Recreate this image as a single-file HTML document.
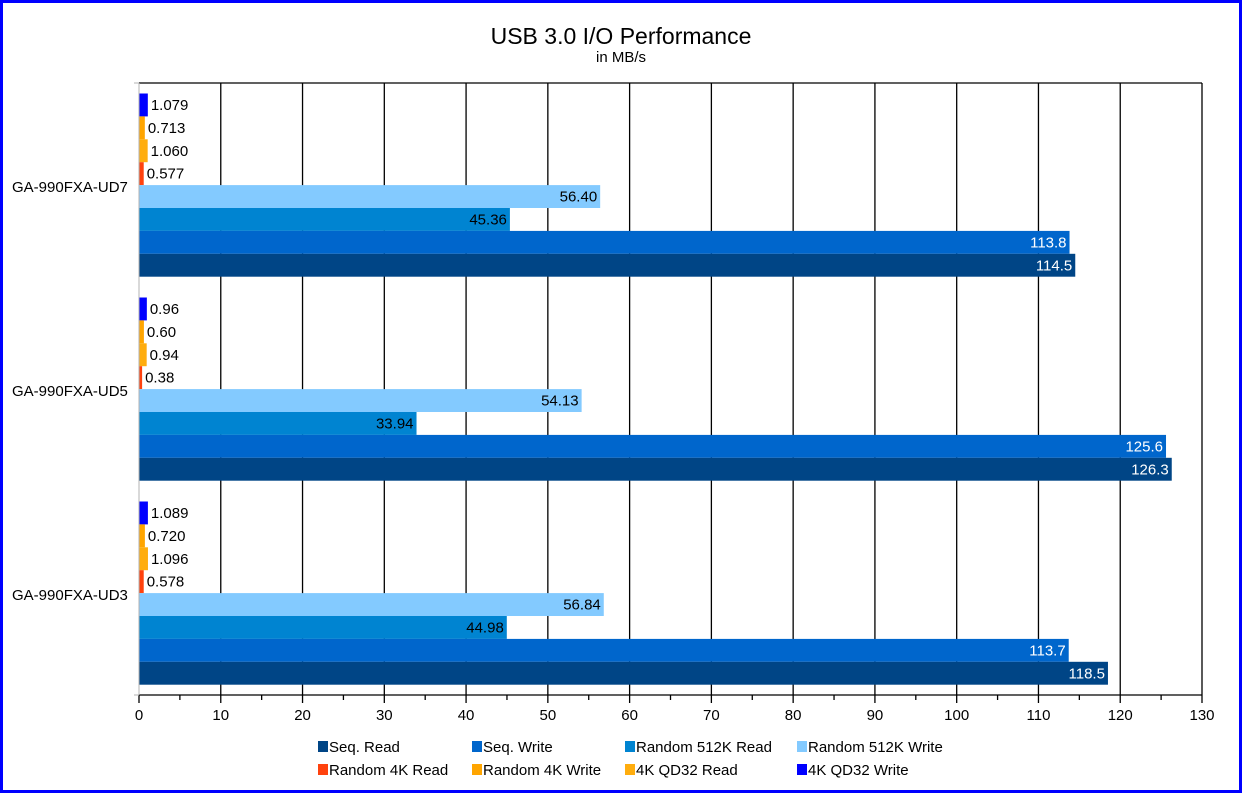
<!DOCTYPE html>
<html><head><meta charset="utf-8"><style>
html,body{margin:0;padding:0;background:#fff;}
svg{display:block;font-family:"Liberation Sans",Arial,sans-serif;}
</style></head><body>
<svg width="1242" height="793" viewBox="0 0 1242 793" xmlns="http://www.w3.org/2000/svg">
<rect x="1.5" y="1.5" width="1239" height="790" fill="#fff" stroke="#0000ff" stroke-width="3"/>
<text x="621" y="44" font-size="23" text-anchor="middle">USB 3.0 I/O Performance</text>
<text x="621" y="62" font-size="15" text-anchor="middle">in MB/s</text>
<g id="grid" stroke="#000" stroke-width="1.3"></g>
<g id="bars"></g>
<g id="legend" font-size="15"></g>
</svg>
<script>
const ns="http://www.w3.org/2000/svg";
const svg=document.querySelector('svg');
function el(t,a,p,txt){const e=document.createElementNS(ns,t);for(const k in a)e.setAttribute(k,a[k]);if(txt!==undefined)e.textContent=txt;(p||svg).appendChild(e);return e;}
const X0=139,S=(1202-139)/130,TOP=83,BOT=695;
const grid=document.getElementById('grid');
el('line',{x1:X0,y1:TOP,x2:1202,y2:TOP},grid);
for(let v=10;v<=130;v+=10){const x=X0+v*S;el('line',{x1:x,y1:TOP,x2:x,y2:BOT+8},grid);}
for(let v=5;v<130;v+=10){const x=X0+v*S;el('line',{x1:x,y1:BOT,x2:x,y2:BOT+5},grid);}
el('line',{x1:X0,y1:BOT,x2:1202,y2:BOT},grid);
el('line',{x1:X0,y1:BOT,x2:X0,y2:BOT+8},grid);
el('line',{x1:X0,y1:TOP,x2:X0,y2:BOT,stroke:'#b3b3b3'});
el('line',{x1:X0-5,y1:BOT,x2:X0,y2:BOT,stroke:'#b3b3b3'});
el('line',{x1:X0-5,y1:TOP,x2:X0,y2:TOP,stroke:'#b3b3b3'});
for(let v=0;v<=130;v+=10){el('text',{x:X0+v*S,y:720,'font-size':15,'text-anchor':'middle'},svg,String(v));}
const cols=['#0000ff','#ffa500','#ffad0e','#ff420e','#83caff','#0084d1','#0066cc','#004586'];
const data=[
 ['GA-990FXA-UD7',['1.079','0.713','1.060','0.577','56.40','45.36','113.8','114.5']],
 ['GA-990FXA-UD5',['0.96','0.60','0.94','0.38','54.13','33.94','125.6','126.3']],
 ['GA-990FXA-UD3',['1.089','0.720','1.096','0.578','56.84','44.98','113.7','118.5']]];
const bars=document.getElementById('bars');
const G=(BOT-TOP)/3,H=22.9;
data.forEach((d,g)=>{
 const top=TOP+G*g;
 el('text',{x:12,y:top+G/2+7,'font-size':15},bars,d[0]);
 d[1].forEach((s,i)=>{
  const v=parseFloat(s),y=top+10.5+H*i,w=v*S;
  el('rect',{x:X0,y:y,width:w,height:H,fill:cols[i]},bars);
  if(v<5) el('text',{x:X0+w+3,y:y+16.5,'font-size':15},bars,s);
  else el('text',{x:X0+w-3,y:y+16.5,'font-size':15,'text-anchor':'end',fill:v>100?'#fff':'#000'},bars,s);
 });
});
const lg=document.getElementById('legend');
const L=[['Seq. Read','#004586',318,741],['Seq. Write','#0066cc',472,741],['Random 512K Read','#0084d1',625,741],['Random 512K Write','#83caff',797,741],
['Random 4K Read','#ff420e',318,764],['Random 4K Write','#ffa500',472,764],['4K QD32 Read','#ffad0e',625,764],['4K QD32 Write','#0000ff',797,764]];
L.forEach(l=>{el('rect',{x:l[2],y:l[3],width:10,height:11,fill:l[1]},lg);el('text',{x:l[2]+11,y:l[3]+11},lg,l[0]);});
</script>
</body></html>
